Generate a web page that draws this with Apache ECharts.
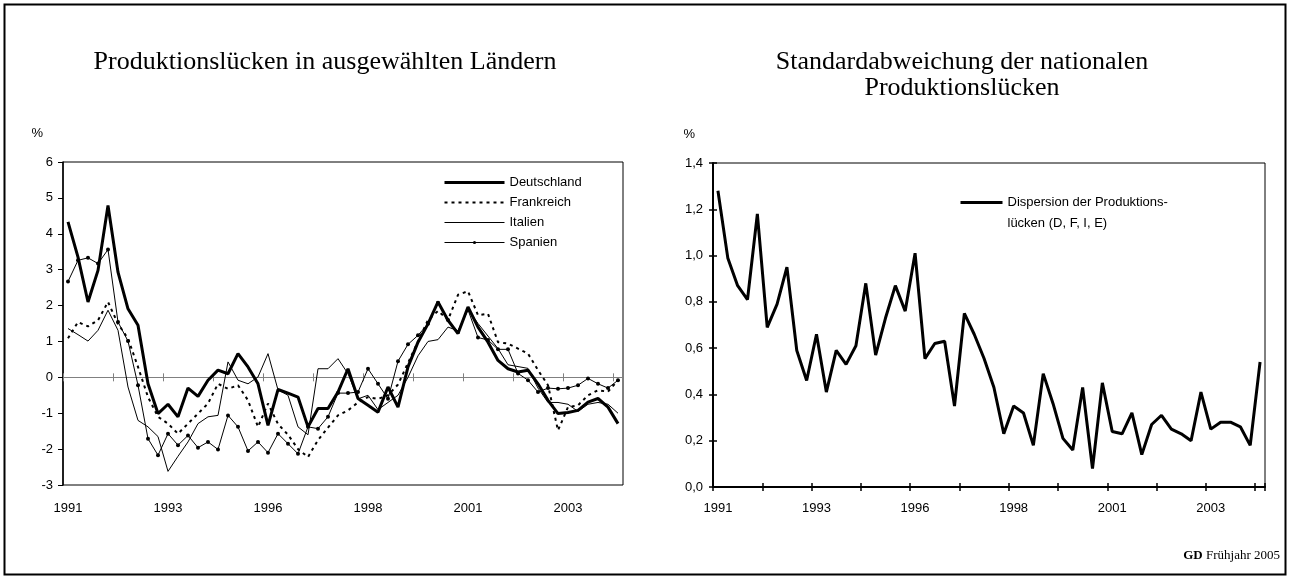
<!DOCTYPE html>
<html>
<head>
<meta charset="utf-8">
<script src="https://cdn.jsdelivr.net/npm/echarts@6.0.0/dist/echarts.min.js"></script>
<style>
  html, body { margin: 0; padding: 0; background: #fff; }
  #main { width: 1290px; height: 579px; }
</style>
</head>
<body>
<div id="main"></div>
<script>
// Quartale 1991Q1 - 2004Q4
var quarters = [
  '1991Q1','1991Q2','1991Q3','1991Q4','1992Q1','1992Q2','1992Q3','1992Q4',
  '1993Q1','1993Q2','1993Q3','1993Q4','1994Q1','1994Q2','1994Q3','1994Q4',
  '1995Q1','1995Q2','1995Q3','1995Q4','1996Q1','1996Q2','1996Q3','1996Q4',
  '1997Q1','1997Q2','1997Q3','1997Q4','1998Q1','1998Q2','1998Q3','1998Q4',
  '1999Q1','1999Q2','1999Q3','1999Q4','2000Q1','2000Q2','2000Q3','2000Q4',
  '2001Q1','2001Q2','2001Q3','2001Q4','2002Q1','2002Q2','2002Q3','2002Q4',
  '2003Q1','2003Q2','2003Q3','2003Q4','2004Q1','2004Q2','2004Q3','2004Q4'
];

// Produktionslücken (%)
var deutschland = [4.33, 3.35, 2.10, 2.98, 4.79, 2.93, 1.91, 1.45, -0.18, -1.01, -0.75, -1.10, -0.30, -0.53,
  -0.08, 0.20, 0.10, 0.66, 0.29, -0.18, -1.34, -0.34, -0.44, -0.55, -1.38, -0.87, -0.87, -0.41,
  0.24, -0.59, -0.78, -0.97, -0.27, -0.83, 0.29, 0.98, 1.49, 2.10, 1.59, 1.22, 1.96, 1.40,
  0.98, 0.47, 0.24, 0.15, 0.20, -0.18, -0.64, -1.01, -0.98, -0.92, -0.69, -0.59, -0.83, -1.29];
var frankreich = [1.09, 1.54, 1.42, 1.59, 2.10, 1.49, 1.08, 0.29, -0.55, -1.10, -1.29, -1.57, -1.29, -1.01,
  -0.73, -0.18, -0.32, -0.22, -0.64, -1.38, -0.73, -1.30, -1.60, -2.00, -2.22, -1.75, -1.40, -1.06,
  -0.92, -0.70, -0.55, -0.60, -0.50, -0.20, 0.40, 1.00, 1.60, 1.85, 1.60, 2.30, 2.40, 1.73,
  1.77, 0.98, 0.94, 0.80, 0.66, 0.20, -0.22, -1.48, -0.83, -0.78, -0.50, -0.36, -0.40, -0.08];
var italien = [1.36, 1.19, 1.01, 1.31, 1.87, 1.31, -0.27, -1.20, -1.38, -1.65, -2.62, -2.20, -1.80, -1.29,
  -1.10, -1.06, 0.43, -0.08, -0.18, 0.01, 0.66, -0.35, -0.50, -1.38, -1.60, 0.24, 0.24, 0.52,
  0.10, -0.60, -0.50, -0.90, -0.70, -0.50, 0.00, 0.60, 1.00, 1.05, 1.40, 1.30, 1.90, 1.50,
  1.15, 0.80, 0.35, 0.30, 0.25, -0.30, -0.70, -0.70, -0.75, -0.95, -0.75, -0.70, -0.75, -1.00];
var spanien = [2.67, 3.26, 3.33, 3.17, 3.56, 1.54, 1.01, -0.22, -1.71, -2.17, -1.57, -1.89, -1.62, -1.96,
  -1.80, -2.01, -1.06, -1.38, -2.05, -1.80, -2.10, -1.57, -1.85, -2.13, -1.38, -1.43, -1.10, -0.44,
  -0.44, -0.41, 0.24, -0.18, -0.60, 0.45, 0.92, 1.17, 1.49, 2.08, 1.60, 1.26, 1.88, 1.11,
  1.04, 0.78, 0.78, 0.11, -0.08, -0.41, -0.30, -0.32, -0.30, -0.22, -0.03, -0.18, -0.30, -0.08];

// Standardabweichung der nationalen Produktionslücken
var dispersion = [1.28, 0.99, 0.87, 0.81, 1.18, 0.69, 0.79, 0.95, 0.59, 0.46, 0.66, 0.41, 0.59, 0.53,
  0.61, 0.88, 0.57, 0.73, 0.87, 0.76, 1.01, 0.555, 0.62, 0.63, 0.35, 0.75, 0.66, 0.555,
  0.43, 0.23, 0.35, 0.32, 0.18, 0.49, 0.36, 0.21, 0.16, 0.43, 0.08, 0.45, 0.24, 0.23,
  0.32, 0.14, 0.27, 0.31, 0.25, 0.23, 0.20, 0.41, 0.25, 0.28, 0.28, 0.26, 0.18, 0.54];

var sans = 'Liberation Sans, Arial, sans-serif';
var serif = 'Liberation Serif, Times New Roman, serif';

var myChart = echarts.init(document.getElementById('main'));

function yearLabel(v) { return v.substring(0, 4); }

var option = {
  backgroundColor: '#fff',
  animation: false,
  title: [
    {
      text: 'Produktionslücken in ausgewählten Ländern',
      left: 320, top: 44, textAlign: 'center',
      textStyle: { fontFamily: serif, fontWeight: 'normal', fontSize: 26, color: '#000' }
    },
    {
      text: 'Standardabweichung der nationalen\nProduktionslücken',
      left: 957, top: 44, textAlign: 'center',
      textStyle: { fontFamily: serif, fontWeight: 'normal', fontSize: 26, color: '#000', lineHeight: 26 }
    },
    {
      text: '{b|GD} Frühjahr 2005',
      right: 5, top: 544,
      textStyle: {
        fontFamily: serif, fontWeight: 'normal', fontSize: 13, color: '#000',
        rich: { b: { fontFamily: serif, fontWeight: 'bold', fontSize: 13, color: '#000' } }
      }
    }
  ],
  graphic: [{
    type: 'rect', silent: true,
    shape: { x: 4.5, y: 4.5, width: 1281, height: 570 },
    style: { fill: 'none', stroke: '#000', lineWidth: 2 }
  }],
  legend: [
    {
      orient: 'vertical', left: 438, top: 171,
      itemWidth: 60, itemHeight: 4, itemGap: 7,
      data: [
        { name: 'Deutschland', lineStyle: { width: 3 }, itemStyle: { opacity: 0 } },
        { name: 'Frankreich', lineStyle: { width: 2, type: [3, 4] }, itemStyle: { opacity: 0 } },
        { name: 'Italien', lineStyle: { width: 1 }, itemStyle: { opacity: 0 } },
        { name: 'Spanien', lineStyle: { width: 1 } }
      ],
      textStyle: { fontFamily: sans, fontSize: 13, color: '#000' }
    },
    {
      left: 954, top: 166,
      itemWidth: 42, itemHeight: 6,
      data: [{ name: 'Dispersion der Produktions-\nlücken (D, F, I, E)', lineStyle: { width: 3 }, itemStyle: { opacity: 0 } }],
      formatter: function (name) { return ' \n' + name; },
      textStyle: { fontFamily: sans, fontSize: 13, color: '#000', lineHeight: 21 }
    }
  ],
  grid: [
    { left: 63, top: 162, width: 560, height: 323, show: true, borderColor: '#000', borderWidth: 1, outerBoundsMode: 'none' },
    { left: 713, top: 163, width: 552, height: 324, show: true, borderColor: '#000', borderWidth: 1, outerBoundsMode: 'none' }
  ],
  xAxis: [
    { // links: Beschriftung unten
      type: 'category', gridIndex: 0, position: 'bottom', data: quarters,
      axisLine: { show: false, onZero: false },
      axisTick: { show: false },
      axisLabel: { interval: 9, formatter: yearLabel, margin: 17, fontFamily: sans, fontSize: 13, color: '#000' }
    },
    { // links: Nulllinie, Striche nach unten
      type: 'category', gridIndex: 0, position: 'bottom', data: quarters,
      axisLine: { show: true, onZero: true, onZeroAxisIndex: 0, lineStyle: { color: '#808080', width: 1 } },
      axisTick: { show: true, interval: 4, length: 4, lineStyle: { color: '#808080' } },
      axisLabel: { show: false }
    },
    { // links: Nulllinie, Striche nach oben
      type: 'category', gridIndex: 0, position: 'bottom', data: quarters,
      axisLine: { show: false, onZero: true, onZeroAxisIndex: 0 },
      axisTick: { show: true, inside: true, interval: 4, length: 4, lineStyle: { color: '#808080' } },
      axisLabel: { show: false }
    },
    { // rechts
      type: 'category', gridIndex: 1, position: 'bottom', data: quarters,
      axisLine: { show: true, onZero: false, lineStyle: { color: '#000', width: 2 } },
      axisTick: { show: true, interval: 4, length: 4, lineStyle: { color: '#000', width: 1.5 } },
      axisLabel: { interval: 9, formatter: yearLabel, margin: 15, fontFamily: sans, fontSize: 13, color: '#000' }
    },
    {
      type: 'category', gridIndex: 1, position: 'bottom', data: quarters,
      axisLine: { show: false, onZero: false },
      axisTick: { show: true, inside: true, interval: 4, length: 4, lineStyle: { color: '#000', width: 1.5 } },
      axisLabel: { show: false }
    }
  ],
  yAxis: [
    {
      type: 'value', gridIndex: 0, position: 'left', min: -3, max: 6, interval: 1,
      name: '%', nameLocation: 'end', nameGap: 22,
      nameTextStyle: { fontFamily: sans, fontSize: 13, color: '#000', align: 'right', padding: [0, 20, 0, 0] },
      axisLine: { show: true, lineStyle: { color: '#000', width: 1.5 } },
      axisTick: { show: true, length: 5, lineStyle: { color: '#000' } },
      splitLine: { show: false },
      axisLabel: { margin: 10, fontFamily: sans, fontSize: 13, color: '#000' }
    },
    {
      type: 'value', gridIndex: 1, position: 'left', min: 0, max: 1.4, interval: 0.2,
      name: '%', nameLocation: 'end', nameGap: 22,
      nameTextStyle: { fontFamily: sans, fontSize: 13, color: '#000', align: 'right', padding: [0, 18, 0, 0] },
      axisLine: { show: true, lineStyle: { color: '#000', width: 2 } },
      axisTick: { show: true, length: 4, lineStyle: { color: '#000', width: 1.5 } },
      splitLine: { show: false },
      axisLabel: {
        margin: 10, fontFamily: sans, fontSize: 13, color: '#000',
        formatter: function (v) { return v.toFixed(1).replace('.', ','); }
      }
    },
    {
      type: 'value', gridIndex: 1, position: 'left', min: 0, max: 1.4, interval: 0.2,
      axisLine: { show: false },
      axisTick: { show: true, inside: true, length: 4, lineStyle: { color: '#000', width: 1.5 } },
      splitLine: { show: false },
      axisLabel: { show: false }
    }
  ],
  series: [
    {
      name: 'Deutschland', type: 'line', xAxisIndex: 0, yAxisIndex: 0,
      data: deutschland, symbol: 'none',
      lineStyle: { color: '#000', width: 3 }, itemStyle: { color: '#000' }, z: 5
    },
    {
      name: 'Frankreich', type: 'line', xAxisIndex: 0, yAxisIndex: 0,
      data: frankreich, symbol: 'none',
      lineStyle: { color: '#000', width: 2, type: [3, 4] }, itemStyle: { color: '#000' }
    },
    {
      name: 'Italien', type: 'line', xAxisIndex: 0, yAxisIndex: 0,
      data: italien, symbol: 'none',
      lineStyle: { color: '#000', width: 1 }, itemStyle: { color: '#000' }
    },
    {
      name: 'Spanien', type: 'line', xAxisIndex: 0, yAxisIndex: 0,
      data: spanien, symbol: 'circle', symbolSize: 4, showSymbol: true,
      lineStyle: { color: '#000', width: 1 }, itemStyle: { color: '#000' }
    },
    {
      name: 'Dispersion der Produktions-\nlücken (D, F, I, E)', type: 'line', xAxisIndex: 3, yAxisIndex: 1,
      data: dispersion, symbol: 'none',
      lineStyle: { color: '#000', width: 3 }, itemStyle: { color: '#000' }
    }
  ]
};

myChart.setOption(option);
</script>
</body>
</html>
